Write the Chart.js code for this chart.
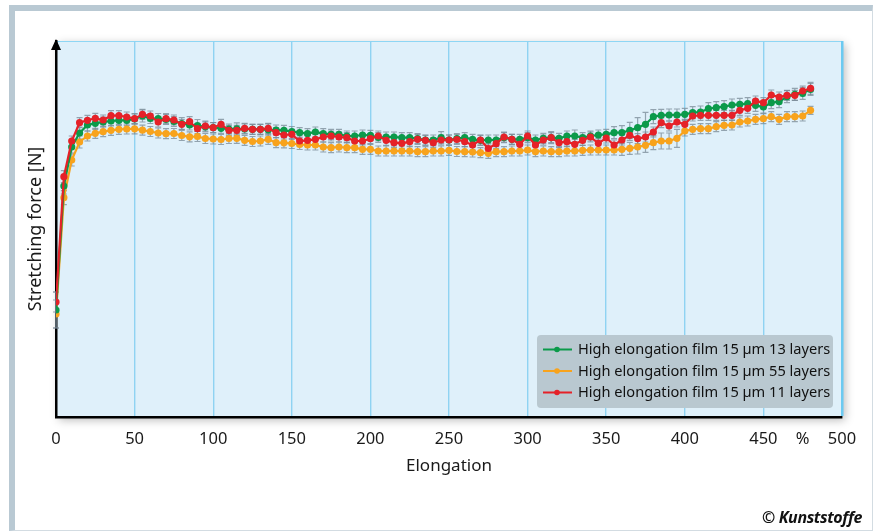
<!DOCTYPE html>
<html>
<head>
<meta charset="utf-8">
<script src="https://cdn.jsdelivr.net/npm/chart.js@4"></script>
<style>
  body { margin: 0; background: #fff; }
  #wrap { position: relative; width: 874px; height: 532px; overflow: hidden; }
  .frame { position: absolute; left: 9px; top: 5px; width: 864px; height: 526px; box-sizing: border-box;
    border-top: 6px solid #b9c9d3; border-left: 6px solid #b9c9d3; border-right: 1px solid #d3dce2; border-bottom: 1px solid #d3dce2; }
  canvas { position: absolute; left: 0; top: 0; }
  .credit { position: absolute; right: 12px; top: 506px; font: italic bold 16px "Noto Sans", sans-serif; color: #111; letter-spacing: -0.4px; }
</style>
</head>
<body>
<div id="wrap">
  <div class="frame"></div>
  <canvas id="forceChart" width="874" height="532"></canvas>
  <div class="credit">© Kunststoffe</div>
</div>
<script>
// elongation in %, one reading every 5 %
const elongation = [0,5,10,15,20,25,30,35,40,45,50,55,60,65,70,75,80,85,90,95,100,105,110,115,120,125,130,135,140,145,150,155,160,165,170,175,180,185,190,195,200,205,210,215,220,225,230,235,240,245,250,255,260,265,270,275,280,285,290,295,300,305,310,315,320,325,330,335,340,345,350,355,360,365,370,375,380,385,390,395,400,405,410,415,420,425,430,435,440,445,450,455,460,465,470,475,480];

// stretching force (no scale printed, relative units)
const film13 = [107,231,270,284,292,293.7,295,296,296.7,296.7,298,301,298.5,298.5,297.5,295.5,293.5,292,291.5,290.2,289.5,288.7,288,288.2,288,287.7,287.7,287.2,287,286.7,285.5,284.3,283.3,285,283.3,282.7,282.7,281,281,282,281.7,279.5,280,280,279.3,279.3,278.3,277,277,279.3,277,278.5,279.3,277.7,276.7,277,277,279.3,277.7,277.7,279.3,277,278.7,279.3,278.7,281,281,279.3,281,282,282.7,284.3,284.3,286.7,289.3,292.7,300.3,301.7,302,302,302.7,304.3,305,308.3,309.3,310.3,312,312.7,313.3,311.7,310,314.3,315.3,320.3,322.7,323.7,327.5];
const film55 = [103,219.3,257,275,281,283.7,285.3,286.7,287.7,288,288.2,286.8,285.5,284,283.3,283.5,281.5,280.2,280.5,278.5,278,277.5,278.5,278.7,276.7,275.5,276,277.7,274.3,274.2,273.5,272.5,272,272,270,269.3,270,269.3,269.3,267.7,267.7,266,266,266,266,266,265.3,265.3,266,266,266.7,265.5,265.3,265,264.3,263.7,265.3,265.3,266,266,267,265.3,266,265.3,265.3,266,266,266.7,267,267,267,267,267.7,268.7,270,271.7,274.3,276,276,278.7,286,287.7,288.3,288.3,290.3,291.7,292,295,296,297.7,298.3,300.3,297.7,300.3,300.3,301,306.7];
const film11 = [115,240.3,276,294.3,296.7,298.7,297,301.3,301.3,300,298.3,302.7,301,295,298.3,297,292.7,295.3,288.3,291,289.3,292.7,286.7,286.7,288.7,287.7,287.7,288.7,284.3,282,282.7,276,276.7,277.7,280,281,280,279.3,276,276,278.3,281,276.7,274.3,273.7,275.3,277.7,276.7,274.3,277,277,277.5,275.3,272,277,268.5,273.3,280,277.7,272.7,281,272,277,279.3,274.3,275.3,272.7,276.7,280,273.7,279,272,277,281.7,278.3,280,285,294.3,291,295,292.7,301,301.7,301.7,301.7,301.7,301.7,306.7,308.7,316,314.3,322,320,321.7,321.7,326,328.7];

// half length of the grey error bars, same units
const err13 = [18,8,6,6,6,6,5,5,5,5,5,6,5,5,5,5,6,5,6,5,5,5,5,6,5,5,5,6,5,5,5,5,5,5,5,5,5,5,5,5,5,5,5,5,5,5,5,5,5,6,5,5,5,5,5,5,5,5,5,5,5,5,5,6,5,5,6,5,5,5,5,6,7,8,10,12,7,6,6,6,6,6,6,6,6,6,6,6,6,6,6,6,6,6,6,6,6];
const err55 = [14,7,6,6,5,5,5,5,5,5,5,5,5,5,5,5,5,5,5,5,5,5,5,5,5,5,5,5,5,5,5,5,5,5,5,5,5,5,5,5,5,5,5,5,5,5,5,5,5,5,5,5,5,5,5,5,5,5,5,5,5,5,5,5,5,5,5,5,5,5,5,5,6,6,7,7,7,8,8,9,5,5,5,5,5,5,5,5,5,5,5,5,5,5,5,5,4];
const err11 = [10,6,5,5,5,5,5,5,5,5,5,5,5,5,5,5,5,5,5,5,5,5,5,5,5,5,5,5,5,5,5,5,5,5,5,5,5,5,5,5,5,5,5,5,5,5,5,5,5,5,5,5,5,5,5,5,5,5,5,5,5,5,5,5,5,5,5,5,5,5,5,5,5,5,5,5,5,5,5,5,5,5,5,5,5,5,5,5,5,5,5,5,5,5,5,5,6];

const seriesLabels = [
  "High elongation film 15 µm 13 layers",
  "High elongation film 15 µm 55 layers",
  "High elongation film 15 µm 11 layers"
];
const xTicks = [0,50,100,150,200,250,300,350,400,450,500];

const toPoints = vals => vals.map((v, i) => ({ x: elongation[i], y: v }));

// light blue plot field with a soft shadow
const plotBackground = {
  id: "plotBackground",
  beforeDraw(chart) {
    const { ctx, chartArea: a } = chart;
    ctx.save();
    ctx.shadowColor = "rgba(0,0,0,0.28)";
    ctx.shadowBlur = 9;
    ctx.shadowOffsetX = 3;
    ctx.shadowOffsetY = 3;
    ctx.fillStyle = "#dff0fa";
    ctx.fillRect(a.left, a.top, a.right - a.left, a.bottom - a.top);
    ctx.restore();
    ctx.save();
    ctx.strokeStyle = "#8ed6f4";
    ctx.lineWidth = 1;
    ctx.beginPath();
    ctx.moveTo(a.left, a.top + 0.5);
    ctx.lineTo(a.right, a.top + 0.5);
    ctx.stroke();
    ctx.restore();
  }
};

// grey error bars behind the markers
const errorBars = {
  id: "errorBars",
  beforeDatasetsDraw(chart) {
    const { ctx } = chart;
    const y = chart.scales.y;
    ctx.save();
    ctx.strokeStyle = "rgba(120,138,150,0.75)";
    ctx.lineWidth = 1.2;
    chart.data.datasets.forEach((ds, di) => {
      const meta = chart.getDatasetMeta(di);
      meta.data.forEach((pt, i) => {
        const e = ds.errors[i];
        const v = ds.data[i].y;
        const y1 = y.getPixelForValue(v + e);
        const y2 = y.getPixelForValue(v - e);
        ctx.beginPath();
        ctx.moveTo(pt.x, y1); ctx.lineTo(pt.x, y2);
        ctx.moveTo(pt.x - 3, y1); ctx.lineTo(pt.x + 3, y1);
        ctx.moveTo(pt.x - 3, y2); ctx.lineTo(pt.x + 3, y2);
        ctx.stroke();
      });
    });
    ctx.restore();
  }
};

// arrow head on the y axis and legend box inside the plot
const extras = {
  id: "extras",
  afterDraw(chart) {
    const { ctx, chartArea: a } = chart;
    ctx.save();
    ctx.fillStyle = "#000";
    ctx.beginPath();
    ctx.moveTo(a.left, a.top - 2);
    ctx.lineTo(a.left - 5, a.top + 9);
    ctx.lineTo(a.left + 5, a.top + 9);
    ctx.closePath();
    ctx.fill();

    const bx = 537, by = 335, bw = 296, bh = 73;
    ctx.fillStyle = "#b9c8d0";
    ctx.beginPath();
    ctx.roundRect(bx, by, bw, bh, 4);
    ctx.fill();
    ctx.font = "14.6px 'Noto Sans', sans-serif";
    ctx.textBaseline = "middle";
    chart.data.datasets.forEach((ds, i) => {
      const ry = by + 14.5 + i * 21.5;
      ctx.strokeStyle = ds.borderColor;
      ctx.lineWidth = 2;
      ctx.beginPath();
      ctx.moveTo(bx + 6, ry); ctx.lineTo(bx + 35, ry);
      ctx.stroke();
      ctx.fillStyle = ds.borderColor;
      ctx.beginPath();
      ctx.arc(bx + 20, ry, 2.8, 0, Math.PI * 2);
      ctx.fill();
      ctx.fillStyle = "#111";
      ctx.fillText(ds.label, bx + 41, ry + 0.5);
    });
    ctx.restore();
  }
};

new Chart(document.getElementById("forceChart"), {
  type: "line",
  data: {
    datasets: [
      { label: seriesLabels[0], data: toPoints(film13), errors: err13, borderColor: "#0b9a4a", backgroundColor: "#0b9a4a", order: 2 },
      { label: seriesLabels[1], data: toPoints(film55), errors: err55, borderColor: "#f8a31c", backgroundColor: "#f8a31c", order: 3 },
      { label: seriesLabels[2], data: toPoints(film11), errors: err11, borderColor: "#e52128", backgroundColor: "#e52128", order: 1 }
    ]
  },
  options: {
    responsive: false,
    animation: false,
    layout: { padding: { top: 41, right: 32, left: 0, bottom: 0 } },
    elements: {
      line: { borderWidth: 2.2, tension: 0 },
      point: { radius: 3.6, borderWidth: 0, hoverRadius: 3.6 }
    },
    plugins: { legend: { display: false }, tooltip: { enabled: false } },
    scales: {
      x: {
        type: "linear",
        min: 0,
        max: 500,
        afterFit: s => { s.height = 115; },
        afterBuildTicks: s => {
          s.ticks = xTicks.concat([475]).sort((a, b) => a - b).map(v => ({ value: v }));
        },
        border: { color: "#000", width: 2.5 },
        grid: {
          drawTicks: false,
          lineWidth: c => (c.tick && c.tick.value === 500 ? 2.5 : 1.4),
          color: c => {
            const v = c.tick ? c.tick.value : 0;
            if (v === 0 || v === 475) return "rgba(0,0,0,0)";
            return v === 500 ? "#6ccaf1" : "#8fd3f2";
          }
        },
        ticks: {
          autoSkip: false,
          maxRotation: 0,
          padding: 12,
          color: "#1a1a1a",
          font: { family: "Noto Sans", size: 16.5 },
          callback: v => (v === 475 ? "%" : v)
        },
        title: {
          display: true,
          text: "Elongation",
          color: "#1a1a1a",
          font: { family: "Noto Sans", size: 17 },
          padding: { top: 0, bottom: 56 }
        }
      },
      y: {
        min: 0,
        max: 376,
        afterFit: s => { s.width = 56; },
        border: { color: "#000", width: 2.5 },
        grid: { display: false, drawTicks: false },
        ticks: { display: false },
        title: {
          display: true,
          text: "Stretching force [N]",
          color: "#1a1a1a",
          font: { family: "Noto Sans", size: 18 },
          padding: { top: 25, bottom: 0 }
        }
      }
    }
  },
  plugins: [plotBackground, errorBars, extras]
});
</script>
</body>
</html>
